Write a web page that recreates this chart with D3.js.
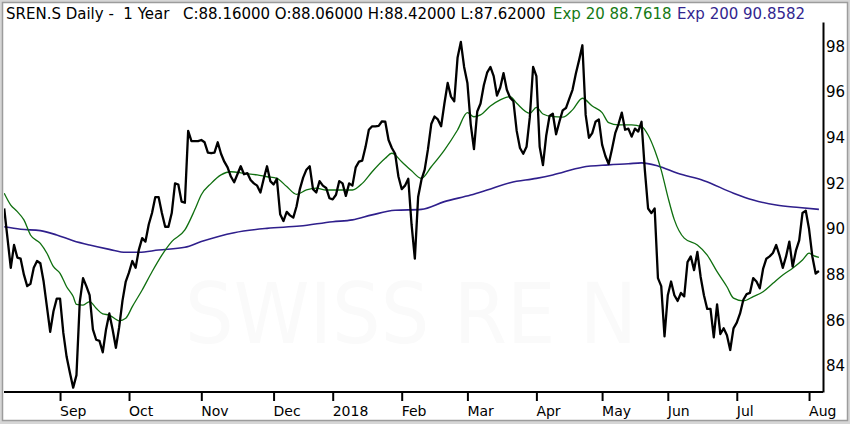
<!DOCTYPE html>
<html lang="en">
<head>
<meta charset="utf-8">
<title>SREN.S Daily - 1 Year</title>
<script src="https://d3js.org/d3.v7.min.js"></script>
<style>
  body { margin: 0; background: #ffffff; }
  svg { display: block; font-family: "DejaVu Sans", Verdana, sans-serif; }
  .axis path { stroke: #000; stroke-width: 2; }
  .axis line { stroke: #000; stroke-width: 2; }
  .axis text { fill: #000; }
</style>
</head>
<body>
<script>
// daily closes, one per trading day (index 0 = first day on the chart)
var closes = [
  90.9, 89.6, 88.3, 89.3, 88.75, 88.7, 88.0, 87.5, 87.6, 88.3,
  88.6, 88.5, 87.7, 86.6, 85.5, 86.4, 86.95, 86.95, 85.45, 84.4,
  83.7, 83.05, 83.6, 86.8, 87.85, 87.5, 87.1, 85.6, 85.15, 85.1,
  84.6, 85.6, 86.3, 85.6, 84.8, 85.7, 86.85, 87.7, 88.1, 88.6,
  88.3, 89.1, 89.6, 89.45, 90.2, 90.7, 91.4, 91.4, 90.7, 90.1,
  90.1, 90.7, 92.0, 91.95, 91.2, 91.15, 94.3, 93.85, 93.85, 93.85,
  93.9, 93.8, 93.35, 93.32, 93.35, 93.8, 93.3, 92.95, 92.7, 92.3,
  92.05, 92.4, 92.75, 92.4, 92.45, 92.15, 92.0, 91.9, 91.6, 92.2,
  92.75, 92.1, 91.95, 92.2, 90.65, 90.35, 90.75, 90.6, 90.5, 91.0,
  91.75, 92.25, 92.6, 92.75, 91.75, 91.6, 92.1, 91.9, 91.8, 91.35,
  91.3, 91.5, 92.1, 92.0, 91.45, 92.0, 91.9, 92.7, 92.95, 93.0,
  93.6, 94.35, 94.5, 94.5, 94.52, 94.72, 94.7, 93.9, 93.55, 93.3,
  92.3, 91.75, 91.9, 92.2, 90.2, 88.7, 91.4, 92.15, 92.6, 93.5,
  94.6, 94.93, 94.8, 94.5, 95.5, 96.4, 95.8, 95.6, 97.5, 98.2,
  97.1, 96.4, 94.6, 93.5, 95.15, 95.5, 96.3, 96.85, 97.1, 96.7,
  95.85, 96.2, 96.83, 96.1, 95.75, 95.6, 94.3, 93.55, 93.3, 93.6,
  94.9, 97.1, 96.7, 93.6, 92.8, 94.1, 94.95, 95.05, 94.15, 94.7,
  95.2, 95.3, 95.7, 96.1, 96.8, 97.4, 98.05, 95.0, 94.0, 94.2,
  94.7, 94.8, 93.7, 93.2, 92.85, 93.5, 94.2, 94.6, 95.1, 94.35,
  94.4, 94.05, 94.4, 94.27, 94.7, 92.6, 90.9, 90.7, 90.9, 87.85,
  87.5, 85.3, 87.1, 87.7, 87.1, 86.85, 87.2, 87.05, 88.55, 88.8,
  88.2, 89.0, 87.9, 87.1, 86.5, 86.5, 85.25, 86.7, 85.4, 85.65,
  85.35, 84.7, 85.65, 85.9, 86.3, 86.9, 87.15, 87.2, 87.85, 87.7,
  87.4, 88.25, 88.7, 88.8, 88.95, 89.3, 88.85, 88.3, 88.8, 89.45,
  88.35, 89.05, 89.5, 90.7, 90.8, 90.0, 88.8, 88.05, 88.16
];

// Exp 20 at selected trading days
var ema20Day = [0, 2, 4, 6, 8, 11, 13, 15, 17, 19, 21, 22, 24, 26, 28, 30, 32, 35, 37, 39,
  42, 45, 48, 51, 55, 58, 60, 63, 66, 69, 73, 77, 80, 83, 86, 89, 92, 95, 98, 101,
  104, 106, 109, 112, 116, 118, 121, 124, 127, 130, 134, 138, 141, 143, 145, 148, 151, 154, 156, 160,
  162, 164, 167, 170, 173, 176, 179, 182, 184, 187, 191, 194, 196, 198, 200, 202, 204, 207, 211, 214,
  217, 220, 222, 225, 228, 231, 234, 237, 240, 243, 245, 246, 248];
var ema20Val = [91.57, 91.05, 90.76, 90.4, 89.74, 89.37, 88.94, 88.35, 88.06, 87.47, 87.04, 86.7, 86.67, 86.82, 86.53, 86.28, 86.23, 85.98, 86.09, 86.6,
  87.33, 88.13, 88.86, 89.45, 89.96, 90.84, 91.5, 92.0, 92.37, 92.51, 92.44, 92.37, 92.29, 92.22, 91.86, 91.52, 91.71, 91.79, 91.71, 91.71,
  91.71, 91.71, 92.0, 92.51, 93.1, 93.32, 92.95, 92.55, 92.22, 92.73, 93.46, 94.34, 95.1, 94.92, 95.0, 95.39, 95.66, 95.8, 95.51, 95.07,
  95.33, 95.04, 94.92, 94.9, 95.22, 95.73, 95.39, 95.1, 94.66, 94.56, 94.56, 94.49, 94.12, 93.46, 92.58, 91.42, 90.4, 89.6, 89.3, 88.86,
  88.13, 87.47, 86.97, 86.85, 87.04, 87.25, 87.62, 87.99, 88.28, 88.64, 88.94, 88.86, 88.76];

// Exp 200 at selected trading days
var ema200Day = [0, 5, 11, 16, 21, 26, 32, 37, 41, 47, 55, 60, 70, 80, 90, 100, 106, 112, 119, 127,
  134, 142, 147, 154, 162, 167, 176, 184, 190, 194, 199, 205, 213, 222, 228, 235, 242, 248];
var ema200Val = [90.1, 89.99, 89.93, 89.74, 89.49, 89.3, 89.11, 88.98, 88.98, 89.08, 89.2, 89.45, 89.84, 90.03, 90.13, 90.32, 90.4, 90.62, 90.82, 90.86,
  91.2, 91.49, 91.71, 92.03, 92.22, 92.37, 92.71, 92.81, 92.86, 92.9, 92.76, 92.44, 92.12, 91.57, 91.27, 91.05, 90.94, 90.86];

// first trading day of each month
var monthDay = [17, 38, 60, 82, 100, 121, 141, 162, 182, 202, 223, 245];
var monthLabel = ["Sep", "Oct", "Nov", "Dec", "2018", "Feb", "Mar", "Apr", "May", "Jun", "Jul", "Aug"];

var priceTicks = [84, 86, 88, 90, 92, 94, 96, 98];

var width = 850
var height = 424

var svg = d3.select("body")
  .append("svg")
  .attr("width", width)
  .attr("height", height)

// window frame
svg.append("rect")
  .attr("width", width).attr("height", height)
  .attr("fill", "#d6d6d6")
svg.append("rect")
  .attr("x", 2.5).attr("y", 2.5)
  .attr("width", 845).attr("height", 418)
  .attr("fill", "#ffffff")
  .attr("stroke", "#9c9c9c")
  .attr("stroke-width", 1.5)

var x = d3.scaleLinear().domain([0, 249]).range([4.2, 822.2])
var y = d3.scaleLinear().domain([82.86, 99.07]).range([392, 22])

// watermark
svg.append("text")
  .attr("x", 185).attr("y", 343)
  .attr("textLength", 452)
  .attr("lengthAdjust", "spacingAndGlyphs")
  .attr("font-size", 84)
  .attr("fill", "#fafafa")
  .text("SWISS RE N")

svg.append("clipPath").attr("id", "plot")
  .append("rect")
  .attr("x", 4).attr("y", 22)
  .attr("width", 819).attr("height", 370)

var plotG = svg.append("g").attr("clip-path", "url(#plot)")

var ema200Line = d3.line()
  .x(function(d, i) { return x(ema200Day[i]) })
  .y(function(d) { return y(d) })
  .curve(d3.curveMonotoneX)

var ema20Line = d3.line()
  .x(function(d, i) { return x(ema20Day[i]) })
  .y(function(d) { return y(d) })
  .curve(d3.curveMonotoneX)

var closeLine = d3.line()
  .x(function(d, i) { return x(i) })
  .y(function(d) { return y(d) })

plotG.append("path")
  .attr("d", ema200Line(ema200Val))
  .attr("fill", "none")
  .attr("stroke", "#2f1f8c")
  .attr("stroke-width", 1.6)

plotG.append("path")
  .attr("d", ema20Line(ema20Val))
  .attr("fill", "none")
  .attr("stroke", "#0f6f0f")
  .attr("stroke-width", 1.3)

plotG.append("path")
  .attr("d", closeLine(closes))
  .attr("fill", "none")
  .attr("stroke", "#000000")
  .attr("stroke-width", 2.3)
  .attr("stroke-linejoin", "round")

// bottom axis
var xAxis = d3.axisBottom(x)
  .tickValues(monthDay)
  .tickFormat(function(d, i) { return monthLabel[i] })
  .tickSize(9)
  .tickSizeOuter(0)

var xG = svg.append("g")
  .attr("class", "axis")
  .attr("transform", "translate(0,392)")
  .call(xAxis)
xG.select(".domain").attr("d", "M4,0H823")
xG.selectAll("text")
  .attr("text-anchor", "start")
  .attr("x", -0.5)
  .attr("y", 24)
  .attr("dy", null)
  .attr("font-size", 14)
  .attr("font-family", "DejaVu Sans, Verdana, sans-serif")

// right axis
var yAxis = d3.axisRight(y)
  .tickValues(priceTicks)
  .tickSize(0)
  .tickSizeOuter(0)
  .tickPadding(3)

var yG = svg.append("g")
  .attr("class", "axis")
  .attr("transform", "translate(823,0)")
  .call(yAxis)
yG.selectAll("text")
  .attr("font-size", 15)
  .attr("font-family", "DejaVu Sans, Verdana, sans-serif")

// header
var header = [
  {t: "SREN.S Daily -  1 Year", x: 6, c: "#000000"},
  {t: "C:88.16000 O:88.06000 H:88.42000 L:87.62000", x: 183, c: "#000000"},
  {t: "Exp 20 88.7618", x: 553, c: "#157a15"},
  {t: "Exp 200 90.8582", x: 677, c: "#33268f"}
]
svg.selectAll(".hdr")
  .data(header)
  .enter()
  .append("text")
  .attr("class", "hdr")
  .attr("x", function(d) { return d.x })
  .attr("y", 19)
  .attr("font-size", 15)
  .attr("fill", function(d) { return d.c })
  .style("white-space", "pre")
  .text(function(d) { return d.t })
</script>
</body>
</html>
